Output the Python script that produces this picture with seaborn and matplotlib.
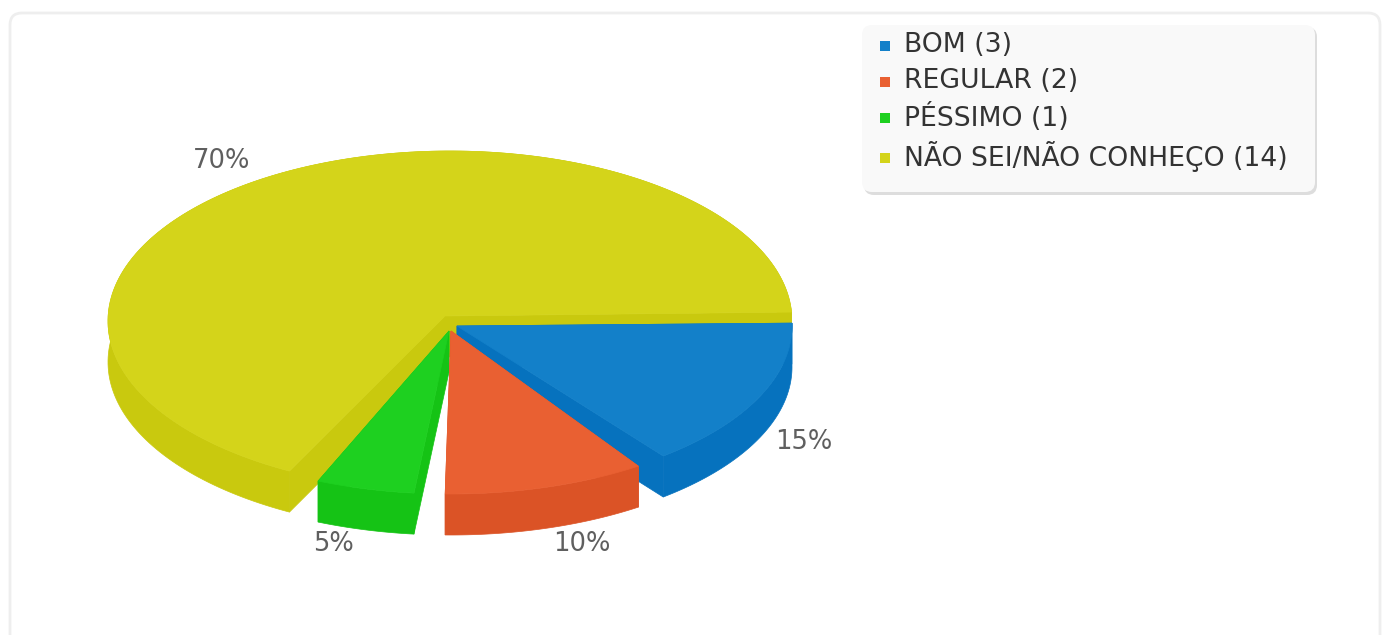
import matplotlib
matplotlib.use("Agg")
import matplotlib.pyplot as plt
from matplotlib.patches import FancyBboxPatch
import numpy as np
import seaborn as sns

categories = ["BOM", "REGULAR", "PÉSSIMO", "NÃO SEI/NÃO CONHEÇO"]
counts = [3, 2, 1, 14]

top_colors = ["#1380C9", "#E96032", "#1ED020", "#D4D41A"]
wall_colors = ["#0672BE", "#DB5326", "#15C315", "#C9C90E"]

# --- Slice layout (pixels on the figure) ---
apex = [(457, 326), (451, 331), (449, 331), (445, 316)]
centers = [(457, 326), (451, 331), (449, 331), (450, 321)]
radii = [(335, 165), (335, 163), (335, 163), (342, 170)]
start_nudge = [-1, 2, 6, 10]
end_nudge = [-2, 1, 5, -3]
draw_order = [3, 0, 2, 1]
depth = 41
label_pos = [(804, 442), (582, 544), (333, 544), (222, 161)]
legend_y = [45, 81, 117, 157]

sns.set_theme(style="white")
plt.rcParams["font.family"] = ["DejaVu Sans"]
palette = sns.color_palette(top_colors)
wall_palette = sns.color_palette(wall_colors)

fig = plt.figure(figsize=(13.86, 6.35), dpi=100)
ax = fig.add_axes([0, 0, 1, 1])
ax.set_xlim(0, 1386)
ax.set_ylim(635, 0)
ax.axis("off")

# --- Card and legend box ---
ax.add_patch(FancyBboxPatch((10, 13), 1370, 660, boxstyle="round,pad=0,rounding_size=12",
                            fc="white", ec="#EEEEEE", lw=2))
ax.add_patch(FancyBboxPatch((864, 27), 453, 168, boxstyle="round,pad=0,rounding_size=10",
                            fc="#DDDDDD", ec="none"))
ax.add_patch(FancyBboxPatch((862, 25), 453, 167, boxstyle="round,pad=0,rounding_size=10",
                            fc="#F9F9F9", ec="none"))

# --- Slices ---
total = sum(counts)
edges = np.cumsum([0] + counts) / total * 360

for i in draw_order:
    a0 = np.radians(edges[i] + start_nudge[i])
    a1 = np.radians(edges[i + 1] + end_nudge[i])
    t = np.linspace(a0, a1, 200)
    x = centers[i][0] + radii[i][0] * np.cos(t)
    y = centers[i][1] + radii[i][1] * np.sin(t)
    px, py = apex[i]
    wall = wall_palette[i]

    # outer wall and the two cut faces, then the top surface over them
    ax.fill(np.r_[x, x[::-1]], np.r_[y, y[::-1] + depth], color=wall, lw=0.5)
    for ex, ey in ((x[0], y[0]), (x[-1], y[-1])):
        ax.fill([px, ex, ex, px], [py, ey, ey + depth, py + depth], color=wall, lw=0.5)
    ax.fill(np.r_[px, x], np.r_[py, y], color=palette[i], lw=0.5)

# --- Percent labels ---
for i, (lx, ly) in enumerate(label_pos):
    ax.text(lx, ly, f"{counts[i] / total * 100:.0f}%", fontsize=18.5, color="#5F5F5F",
            ha="center", va="center")

# --- Legend ---
for i, cat in enumerate(categories):
    ax.scatter([885], [legend_y[i] + 1], marker="s", s=62, color=palette[i], linewidths=0)
    ax.text(904, legend_y[i], f"{cat} ({counts[i]})", fontsize=19.2, color="#333333",
            ha="left", va="center")

fig.savefig("out.png", dpi=100)
